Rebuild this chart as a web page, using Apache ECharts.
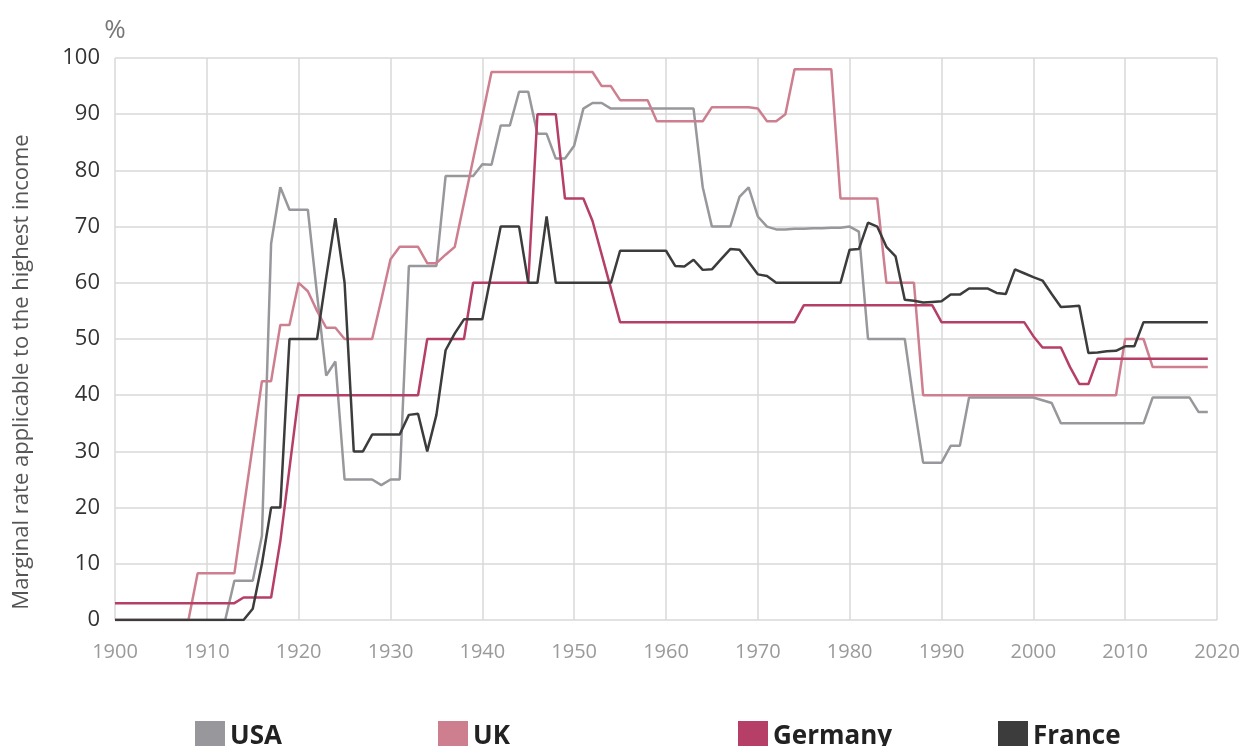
<!DOCTYPE html>
<html>
<head>
<meta charset="utf-8">
<script src="https://cdn.jsdelivr.net/npm/echarts@6/dist/echarts.min.js"></script>
<style>
  html, body { margin: 0; padding: 0; background: #fff; }
  #chart { width: 1247px; height: 746px; }
</style>
</head>
<body>
<div id="chart"></div>
<script>
// years 1900 - 2019
const years = [];
for (let y = 1900; y <= 2019; y++) years.push(y);

const usa = [
  0, 0, 0, 0, 0, 0, 0, 0, 0, 0,
  0, 0, 0, 7, 7, 7, 15, 67, 77, 73,
  73, 73, 58, 43.5, 46, 25, 25, 25, 25, 24,
  25, 25, 63, 63, 63, 63, 79, 79, 79, 79,
  81.1, 81, 88, 88, 94, 94, 86.5, 86.5, 82.1, 82.1,
  84.4, 91, 92, 92, 91, 91, 91, 91, 91, 91,
  91, 91, 91, 91, 77, 70, 70, 70, 75.3, 77,
  71.8, 70, 69.5, 69.5, 69.6, 69.6, 69.7, 69.7, 69.8, 69.8,
  70, 69.1, 50, 50, 50, 50, 50, 38.5, 28, 28,
  28, 31, 31, 39.6, 39.6, 39.6, 39.6, 39.6, 39.6, 39.6,
  39.6, 39.1, 38.6, 35, 35, 35, 35, 35, 35, 35,
  35, 35, 35, 39.6, 39.6, 39.6, 39.6, 39.6, 37, 37
];

const uk = [
  0, 0, 0, 0, 0, 0, 0, 0, 0, 8.3,
  8.3, 8.3, 8.3, 8.3, 19.7, 31.1, 42.5, 42.5, 52.5, 52.5,
  60, 58.5, 55, 52, 52, 50, 50, 50, 50, 57,
  64.2, 66.4, 66.4, 66.4, 63.5, 63.5, 65, 66.4, 74.2, 82,
  89.7, 97.5, 97.5, 97.5, 97.5, 97.5, 97.5, 97.5, 97.5, 97.5,
  97.5, 97.5, 97.5, 95, 95, 92.5, 92.5, 92.5, 92.5, 88.75,
  88.75, 88.75, 88.75, 88.75, 88.75, 91.25, 91.25, 91.25, 91.25, 91.25,
  91, 88.75, 88.75, 90, 98, 98, 98, 98, 98, 75,
  75, 75, 75, 75, 60, 60, 60, 60, 40, 40,
  40, 40, 40, 40, 40, 40, 40, 40, 40, 40,
  40, 40, 40, 40, 40, 40, 40, 40, 40, 40,
  50, 50, 50, 45, 45, 45, 45, 45, 45, 45
];

const germany = [
  3, 3, 3, 3, 3, 3, 3, 3, 3, 3,
  3, 3, 3, 3, 4, 4, 4, 4, 14, 27,
  40, 40, 40, 40, 40, 40, 40, 40, 40, 40,
  40, 40, 40, 40, 50, 50, 50, 50, 50, 60,
  60, 60, 60, 60, 60, 60, 90, 90, 90, 75,
  75, 75, 71, 65, 59, 53, 53, 53, 53, 53,
  53, 53, 53, 53, 53, 53, 53, 53, 53, 53,
  53, 53, 53, 53, 53, 56, 56, 56, 56, 56,
  56, 56, 56, 56, 56, 56, 56, 56, 56, 56,
  53, 53, 53, 53, 53, 53, 53, 53, 53, 53,
  50.5, 48.5, 48.5, 48.5, 45, 42, 42, 46.5, 46.5, 46.5,
  46.5, 46.5, 46.5, 46.5, 46.5, 46.5, 46.5, 46.5, 46.5, 46.5
];

const france = [
  0, 0, 0, 0, 0, 0, 0, 0, 0, 0,
  0, 0, 0, 0, 0, 2, 10, 20, 20, 50,
  50, 50, 50, 61, 71.5, 60, 30, 30, 33, 33,
  33, 33, 36.5, 36.7, 30, 36.5, 48, 51, 53.5, 53.5,
  53.5, 61.8, 70, 70, 70, 60, 60, 71.8, 60, 60,
  60, 60, 60, 60, 60, 65.7, 65.7, 65.7, 65.7, 65.7,
  65.7, 63, 62.9, 64.1, 62.3, 62.4, 64.2, 66, 65.9, 63.7,
  61.5, 61.2, 60, 60, 60, 60, 60, 60, 60, 60,
  65.9, 66, 70.7, 70, 66.4, 64.7, 57, 56.8, 56.5, 56.6,
  56.7, 57.9, 57.9, 59, 59, 59, 58.2, 58, 62.4, 61.7,
  61, 60.4, 58, 55.7, 55.8, 55.9, 47.5, 47.6, 47.8, 47.9,
  48.7, 48.7, 53, 53, 53, 53, 53, 53, 53, 53
];

const names = ['USA', 'UK', 'Germany', 'France'];
const colors = ['#98989c', '#cd7f90', '#b63f68', '#3c3c3c'];
const values = [usa, uk, germany, france];
const legendLeft = [190, 433, 733, 993];

const chart = echarts.init(document.getElementById('chart'));

const option = {
  animation: false,
  backgroundColor: '#fff',
  color: colors,
  grid: {
    left: 115,
    right: 30,
    top: 58,
    bottom: 126
  },
  legend: names.map((n, i) => ({
    data: [n],
    left: legendLeft[i],
    top: 716,
    icon: 'rect',
    itemWidth: 30,
    itemHeight: 32,
    itemGap: 12,
    textStyle: {
      fontFamily: 'Open Sans',
      fontWeight: 'bold',
      fontSize: 26,
      color: '#222',
      padding: [6, 0, 0, 0]
    }
  })),
  xAxis: {
    type: 'value',
    min: 1900,
    max: 2020,
    interval: 10,
    axisLine: { show: false },
    axisTick: { show: false },
    splitLine: { lineStyle: { color: '#d9d9d9', width: 1.5 } },
    axisLabel: {
      color: '#9a9a9a',
      fontFamily: 'Open Sans',
      fontSize: 20,
      margin: 22,
      formatter: v => String(v)
    }
  },
  yAxis: {
    type: 'value',
    min: 0,
    max: 100,
    interval: 10,
    name: '%',
    nameGap: 14,
    nameTextStyle: {
      color: '#777',
      fontFamily: 'Open Sans',
      fontSize: 26,
      align: 'center'
    },
    axisLine: { show: false },
    axisTick: { show: false },
    splitLine: { lineStyle: { color: '#d9d9d9', width: 1.5 } },
    axisLabel: {
      color: '#333',
      fontFamily: 'Open Sans',
      fontSize: 22,
      margin: 15
    }
  },
  graphic: [
    {
      type: 'text',
      x: 22,
      y: 372,
      rotation: Math.PI / 2,
      style: {
        text: 'Marginal rate applicable to the highest income',
        fontFamily: 'Liberation Sans Narrow, Open Sans',
        fontSize: 22,
        fill: '#555',
        textAlign: 'center',
        textVerticalAlign: 'middle'
      }
    }
  ],
  series: names.map((n, i) => ({
    name: n,
    type: 'line',
    showSymbol: false,
    symbol: 'none',
    lineStyle: { width: 2.5, color: colors[i] },
    data: years.map((y, k) => [y, values[i][k]])
  }))
};

chart.setOption(option);
</script>
</body>
</html>
